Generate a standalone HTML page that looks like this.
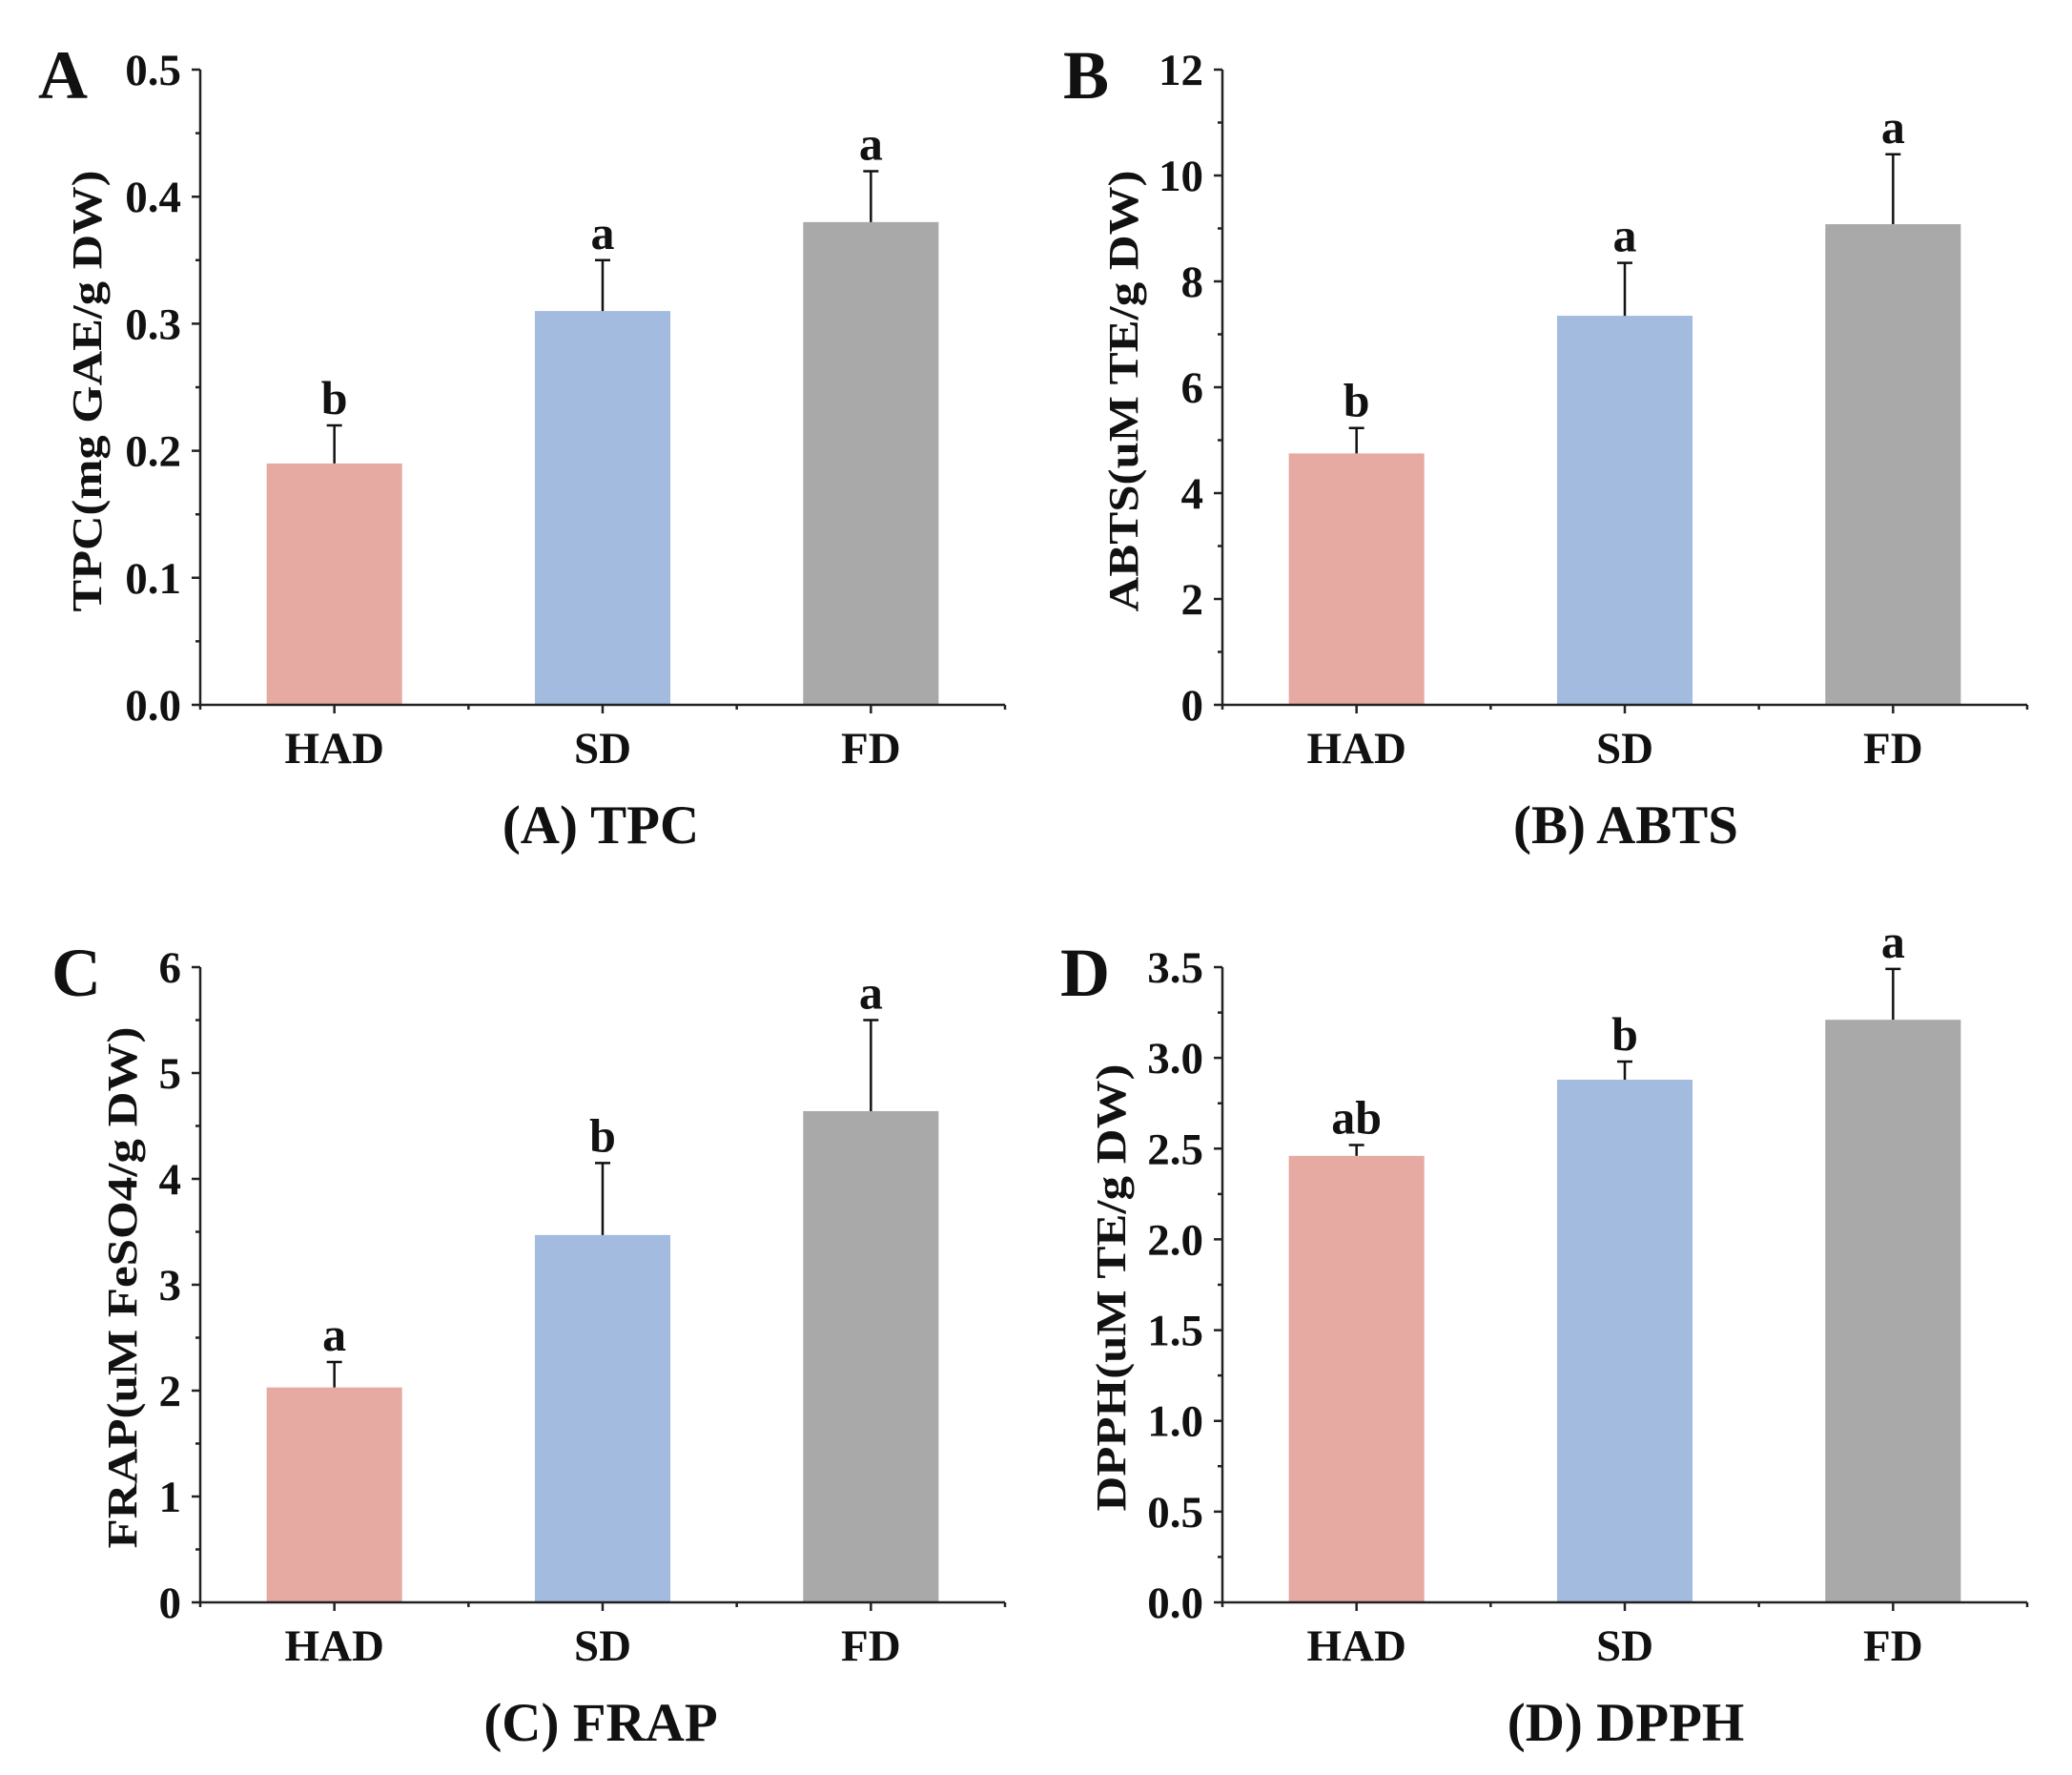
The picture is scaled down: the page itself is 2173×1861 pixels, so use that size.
<!DOCTYPE html>
<html><head><meta charset="utf-8"><style>
html,body{margin:0;padding:0;background:#fff}
svg{display:block}
text{font-family:"Liberation Serif",serif;font-weight:bold;fill:#111}
</style></head><body>
<svg id="fig" width="2173" height="1861" viewBox="0 0 2173 1861" xmlns="http://www.w3.org/2000/svg"></svg>
<script>
const categories = ["HAD","SD","FD"];
const colors = ["#e6aaa3","#a3bbdf","#a9a9a9"];
const tpcValues = [0.19,0.31,0.38];
const tpcErrors = [0.03,0.04,0.04];
const tpcLetters = ["b","a","a"];
const tpcTicks = ["0.0","0.1","0.2","0.3","0.4","0.5"];
const abtsValues = [4.75,7.35,9.08];
const abtsErrors = [0.48,1.0,1.32];
const abtsLetters = ["b","a","a"];
const abtsTicks = ["0","2","4","6","8","10","12"];
const frapValues = [2.03,3.47,4.64];
const frapErrors = [0.24,0.68,0.86];
const frapLetters = ["a","b","a"];
const frapTicks = ["0","1","2","3","4","5","6"];
const dpphValues = [2.46,2.88,3.21];
const dpphErrors = [0.06,0.1,0.28];
const dpphLetters = ["ab","b","a"];
const dpphTicks = ["0.0","0.5","1.0","1.5","2.0","2.5","3.0","3.5"];

const NS="http://www.w3.org/2000/svg";
const svg=document.getElementById('fig');
function mk(tag,attrs,parent,txt){const e=document.createElementNS(NS,tag);for(const k in attrs)e.setAttribute(k,attrs[k]);if(txt!==undefined)e.textContent=txt;parent.appendChild(e);return e;}

function panel(cfg){
  const g=mk('g',{},svg);
  
  
  const x0=cfg.x0,x1=cfg.x1,yTop=cfg.yTop,yBot=cfg.yBot;
  const ticks=cfg.ticks.map(Number);
  const vmax=ticks[ticks.length-1];
  const ys=v=>yBot-(v/vmax)*(yBot-yTop);
  const band=(x1-x0)/categories.length;
  const xc=i=>x0+band*(i+0.5);
  categories.forEach((c,i)=>{
    const w=band*0.505;
    const r=mk('rect',{x:xc(i)-w/2,y:ys(cfg.values[i]),width:w,height:yBot-ys(cfg.values[i]),fill:colors[i]},g);
    
    
    const top=ys(cfg.values[i]+cfg.errors[i]);
    const eb=mk('path',{d:`M${xc(i)} ${ys(cfg.values[i])}V${top}M${xc(i)-8} ${top}H${xc(i)+8}`,stroke:'#111','stroke-width':2.5,fill:'none'},g);
    
    
    const t=mk('text',{x:xc(i),y:top-12,'text-anchor':'middle','font-size':50},g,cfg.letters[i]);
    
    
    const cl=mk('text',{x:xc(i),y:yBot+61,'text-anchor':'middle','font-size':47},g,c);
    
    
  });
  const ax=mk('path',{d:`M${x0} ${yTop}V${yBot}H${x1}`,stroke:'#222','stroke-width':2.5,fill:'none'},g);
  
  
  let d='';
  const step=ticks[1]-ticks[0];
  for(let k=0;k<ticks.length*2-1;k++){
    const v=k*step/2;const y=ys(v);
    d+=`M${x0-(k%2?5:9)} ${y}H${x0}`;
  }
  for(let k=0;k<=categories.length*2;k++){
    const x=x0+band*k/2;
    d+=`M${x} ${yBot}V${yBot+(k%2?9:5)}`;
  }
  const tk=mk('path',{d:d,stroke:'#222','stroke-width':2.5,fill:'none'},g);
  
  
  cfg.ticks.forEach(s=>{
    const t=mk('text',{x:x0-20,y:ys(Number(s))+16,'text-anchor':'end','font-size':47},g,s);
    
    
  });
  const yt=mk('text',{x:0,y:0,transform:`translate(${cfg.titleX},${cfg.titleY}) rotate(-90)`,'text-anchor':'middle','font-size':44,textLength:cfg.titleLen,lengthAdjust:'spacingAndGlyphs'},g,cfg.title);
  
  
  const st=mk('text',{x:cfg.subX,y:yBot+145,'text-anchor':'middle','font-size':57},g,cfg.sub);
  
  
  const pl=mk('text',{x:cfg.letterX,y:yTop+30,'font-size':72},g,cfg.letter);
  
  
}

panel({id:'tpc',x0:210,x1:1054,yTop:73,yBot:739,ticks:tpcTicks,values:tpcValues,errors:tpcErrors,letters:tpcLetters,
  title:'TPC(mg GAE/g DW)',titleX:106,titleY:410,titleLen:463,sub:'(A) TPC',subX:630,letter:'A',letterX:40});
panel({id:'abts',x0:1282,x1:2126,yTop:73,yBot:739,ticks:abtsTicks,values:abtsValues,errors:abtsErrors,letters:abtsLetters,
  title:'ABTS(uM TE/g DW)',titleX:1193,titleY:410,titleLen:463,sub:'(B) ABTS',subX:1705,letter:'B',letterX:1115});
panel({id:'frap',x0:210,x1:1054,yTop:1014,yBot:1680,ticks:frapTicks,values:frapValues,errors:frapErrors,letters:frapLetters,
  title:'FRAP(uM FeSO4/g DW)',titleX:143,titleY:1350,titleLen:547,sub:'(C) FRAP',subX:630,letter:'C',letterX:54});
panel({id:'dpph',x0:1282,x1:2126,yTop:1014,yBot:1680,ticks:dpphTicks,values:dpphValues,errors:dpphErrors,letters:dpphLetters,
  title:'DPPH(uM TE/g DW)',titleX:1180,titleY:1350,titleLen:469,sub:'(D) DPPH',subX:1705,letter:'D',letterX:1112});
</script>
</body></html>
